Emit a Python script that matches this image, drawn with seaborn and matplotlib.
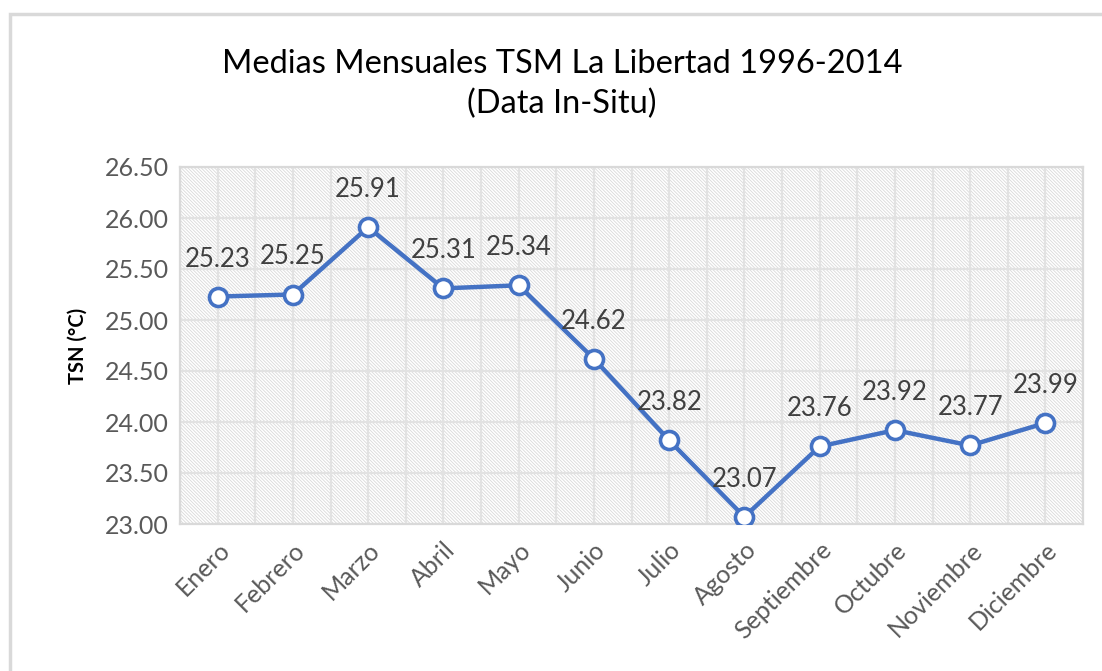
import matplotlib
matplotlib.use("Agg")
import matplotlib.pyplot as plt
from matplotlib.patches import Rectangle
import pandas as pd
import seaborn as sns

months = ['Enero', 'Febrero', 'Marzo', 'Abril', 'Mayo', 'Junio', 'Julio',
          'Agosto', 'Septiembre', 'Octubre', 'Noviembre', 'Diciembre']
tsm = [25.23, 25.25, 25.91, 25.31, 25.34, 24.62, 23.82,
       23.07, 23.76, 23.92, 23.77, 23.99]
yticks = [23.0, 23.5, 24.0, 24.5, 25.0, 25.5, 26.0, 26.5]
title = 'Medias Mensuales TSM La Libertad 1996-2014\n(Data In-Situ)'
ylabel = 'TSN (°C)'

df = pd.DataFrame({'Mes': months, 'TSM': tsm})

sns.set_style("white")
plt.rcParams['font.family'] = ['Lato', 'DejaVu Sans']
plt.rcParams['hatch.linewidth'] = 0.6
plt.rcParams['hatch.color'] = '#d9d9d9'

fig = plt.figure(figsize=(11.02, 6.71), dpi=100)
ax = fig.add_axes([180 / 1102, 1 - 524 / 671, 903 / 1102, 357 / 671])

# outer chart border
fig.patches.append(Rectangle((10 / 1102, -0.1), 1.2, 1 - 14 / 671 + 0.1,
                             transform=fig.transFigure, fill=False,
                             edgecolor='#d9d9d9', linewidth=2.5))

# hatched plot area
ax.add_patch(Rectangle((0, 0), 1, 1, transform=ax.transAxes, facecolor='white',
                       edgecolor='#d9d9d9', hatch='\\' * 10, linewidth=0, zorder=0))

sns.lineplot(data=df, x='Mes', y='TSM', ax=ax, color='#4472c4', linewidth=3.2,
             marker='o', markersize=13, markerfacecolor='white',
             markeredgecolor='#4472c4', markeredgewidth=2.6, zorder=5)

for i, v in enumerate(tsm):
    ax.annotate(f'{v:.2f}', (i, v), xytext=(0, 27), textcoords='offset points',
                ha='center', va='center', fontsize=18.5, color='#404040', zorder=6)

ax.set_xlim(-0.5, len(months) - 0.5)
ax.set_ylim(23.0, 26.5)
ax.set_yticks(yticks)
ax.set_yticklabels([f'{t:.2f}' for t in yticks])
ax.set_xticks(range(len(months)))
ax.set_xticks([k - 0.5 for k in range(len(months) + 1)], minor=True)
ax.set_xticklabels(months, rotation=45, ha='right', rotation_mode='anchor')

ax.grid(True, which='major', color='#e2e2e2', linewidth=1.6, zorder=1)
ax.grid(True, which='minor', axis='x', color='#e2e2e2', linewidth=1.6, zorder=1)
ax.set_axisbelow(True)
ax.tick_params(axis='both', which='both', length=0, labelsize=18,
               labelcolor='#595959')
ax.tick_params(axis='x', pad=10)
ax.tick_params(axis='y', pad=8)
for s in ax.spines.values():
    s.set_color('#d9d9d9')
    s.set_linewidth(1.6)

ax.set_xlabel('')
ax.set_ylabel(ylabel, fontsize=14.5, fontweight='bold', color='black', labelpad=12)
fig.text(562 / 1102, 1 - 84 / 671, title, ha='center', va='center',
         fontsize=23.5, color='black', linespacing=1.4)

fig.savefig('out.png', dpi=100)
